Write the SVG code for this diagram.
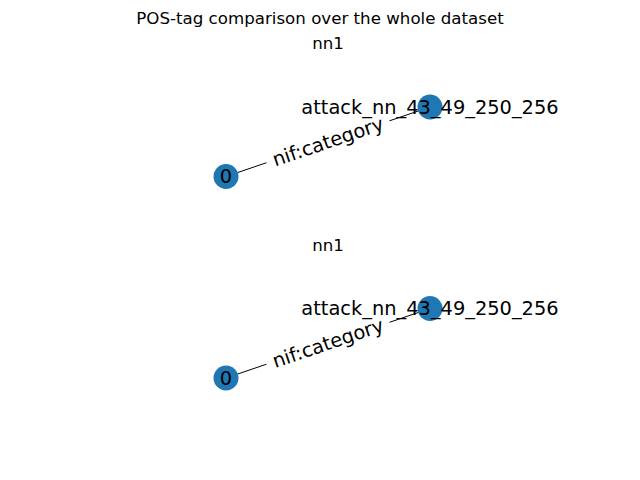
<svg xmlns="http://www.w3.org/2000/svg" width="640" height="480" viewBox="0 0 640 480">
<style>
text{font-family:"DejaVu Sans",sans-serif;fill:#000}
.t{font-size:16.67px;text-anchor:middle}
.nl{font-size:19.4px;text-anchor:middle;dominant-baseline:central}
.node{fill:#1f77b4}
.edge{stroke:#000;stroke-width:1}
.lb{fill:#fff}
</style>
<rect width="640" height="480" fill="#fff"/>
<text class="t" x="320" y="24">POS-tag comparison over the whole dataset</text>
<text class="t" x="328" y="49">nn1</text>
<text class="t" x="328" y="251">nn1</text>
<g id="connectors">
<line class="edge" x1="226" y1="176.5" x2="430" y2="107"/>
<line class="edge" x1="226" y1="378" x2="430" y2="308.5"/>
<g id="g1-e" transform="translate(328,141.75) rotate(-18.8)"><rect class="lb" x="-65" y="-15" width="130" height="30" rx="5"/><text class="nl" x="0" y="0">nif:category</text></g>
<g id="g2-e" transform="translate(328,343.25) rotate(-18.8)"><rect class="lb" x="-65" y="-15" width="130" height="30" rx="5"/><text class="nl" x="0" y="0">nif:category</text></g>
</g>
<g id="g1-n0"><circle class="node" cx="226" cy="176.5" r="12.5"/><text class="nl" x="226" y="176.5">0</text></g>
<g id="g1-n1"><circle class="node" cx="430" cy="107" r="12.5"/><text class="nl" x="430" y="107">attack_nn_43_49_250_256</text></g>
<g id="g2-n0"><circle class="node" cx="226" cy="378" r="12.5"/><text class="nl" x="226" y="378">0</text></g>
<g id="g2-n1"><circle class="node" cx="430" cy="308.5" r="12.5"/><text class="nl" x="430" y="308.5">attack_nn_43_49_250_256</text></g>
</svg>
